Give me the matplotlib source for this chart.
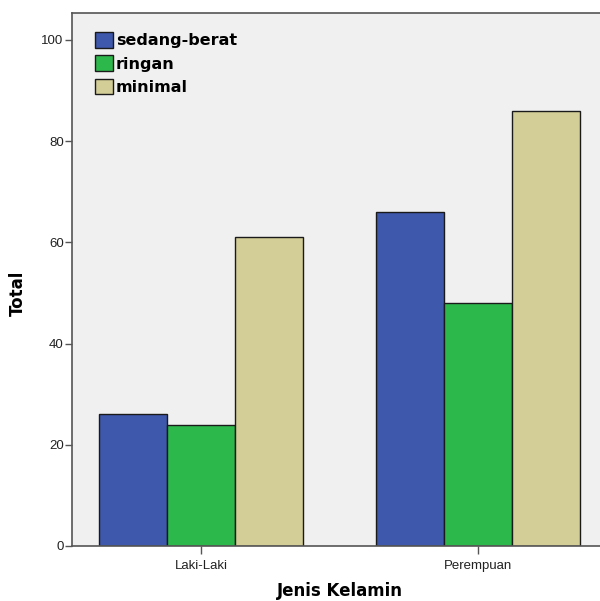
import matplotlib.pyplot as plt
import numpy as np

groups = ["Laki-Laki", "Perempuan"]
series = ["sedang-berat", "ringan", "minimal"]
sedang_berat = [26, 66]
ringan = [24, 48]
minimal = [61, 86]
colors = ["#3e58ac", "#2db84c", "#d3ce97"]

plt.rcParams["font.family"] = ["Liberation Sans", "DejaVu Sans"]

fig = plt.figure(figsize=(6.0, 6.01), dpi=100)
ax = fig.add_axes([72 / 600, 55 / 601, 535 / 600, 533 / 601])
ax.set_facecolor("#f0f0f0")

x = np.arange(len(groups))
w = 68 / 277
for i, (vals, name) in enumerate(zip([sedang_berat, ringan, minimal], series)):
    ax.bar(x + (i - 1) * w, vals, w, color=colors[i], edgecolor="#1a1a1a",
           linewidth=1.0, label=name, zorder=2)

ax.set_xlim(-1.5 * w - 27 / 277, 1 + 1.5 * w + 27 / 277)
ax.set_ylim(0, 533 / 5.06)
ax.set_yticks([0, 20, 40, 60, 80, 100])
ax.set_xticks(x)
ax.set_xticklabels(groups)
ax.tick_params(axis="y", direction="out", length=5, width=1, labelsize=9.5,
               colors="#555555", labelcolor="#222222", pad=1)
ax.tick_params(axis="x", direction="out", length=6, width=1, labelsize=9.5,
               colors="#555555", labelcolor="#222222", pad=4)
for sp in ax.spines.values():
    sp.set_color("#555555")
    sp.set_linewidth(1.2)

# axis titles placed by hand so they stay inside the figure
bold = {"family": "DejaVu Sans", "size": 12, "weight": "bold"}
fig.text(18 / 600, 1 - 293 / 601, "Total", rotation=90, ha="center", va="center",
         fontdict=bold)
fig.text(340 / 600, 1 - 591 / 601, "Jenis Kelamin", ha="center", va="center",
         fontdict=bold)

leg = ax.legend(loc="upper left", bbox_to_anchor=(0.022, 0.985), frameon=False,
                prop={"family": "DejaVu Sans", "size": 11.5, "weight": "bold"},
                handlelength=1.1, handleheight=1.1,
                handletextpad=0.2, labelspacing=0.45, borderaxespad=0.3)

fig.savefig("out.png", dpi=100)
